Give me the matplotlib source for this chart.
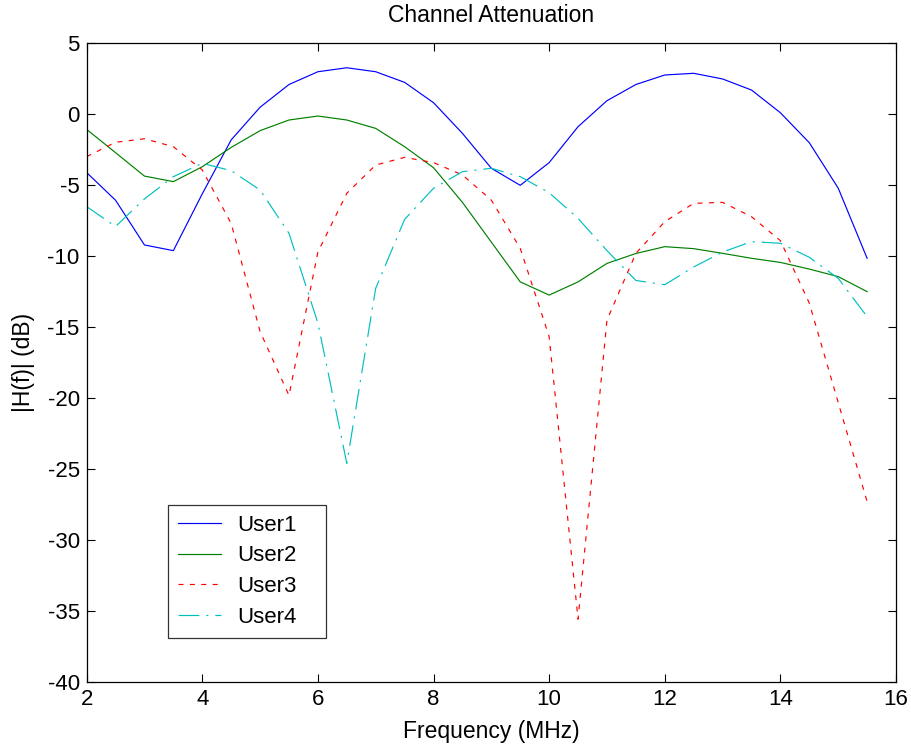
import numpy as np
import matplotlib
matplotlib.use("Agg")
import matplotlib.pyplot as plt

plt.rcParams['font.family'] = ['Liberation Sans', 'DejaVu Sans']
plt.rcParams['lines.scale_dashes'] = False
plt.rcParams['axes.unicode_minus'] = False

freq = [2, 2.5, 3, 3.5, 4, 4.5, 5, 5.5, 6, 6.5, 7, 7.5, 8, 8.5, 9, 9.5,
        10, 10.5, 11, 11.5, 12, 12.5, 13, 13.5, 14, 14.5, 15, 15.5]

user1 = [-4.1, -6.05, -9.2, -9.6, -5.6, -1.8, 0.5, 2.1, 3.0, 3.28, 3.0, 2.25,
         0.82, -1.34, -3.8, -5.0, -3.4, -0.87, 0.96, 2.1, 2.77, 2.89, 2.49,
         1.71, 0.11, -2.0, -5.2, -10.14]
user2 = [-1.06, -2.7, -4.35, -4.74, -3.69, -2.33, -1.15, -0.4, -0.12, -0.4,
         -0.99, -2.28, -3.76, -6.2, -9.0, -11.8, -12.73, -11.8, -10.5, -9.8,
         -9.32, -9.46, -9.79, -10.14, -10.43, -10.9, -11.43, -12.49]
user3 = [-2.98, -1.97, -1.72, -2.28, -3.92, -7.68, -15.3, -19.8, -9.7, -5.56,
         -3.57, -3.03, -3.4, -4.27, -6.04, -9.44, -15.66, -35.56, -14.49,
         -9.79, -7.56, -6.27, -6.2, -7.21, -8.9, -13.3, -20.3, -27.28]
user4 = [-6.5, -7.9, -5.96, -4.39, -3.45, -3.97, -5.33, -8.38, -14.7, -24.58,
         -12.25, -7.4, -5.21, -4.04, -3.8, -4.39, -5.52, -7.33, -9.6, -11.7,
         -12.0, -10.75, -9.7, -8.97, -9.08, -10.07, -11.55, -14.25]

labels = ['User1', 'User2', 'User3', 'User4']

fig = plt.figure(figsize=(9.12, 7.51), dpi=100)
ax = fig.add_axes([0.095, 0.0915, 0.8875, 0.8508])

lw = 0.85
ax.plot(freq, user1, color=(0, 0, 1), lw=lw, label=labels[0])
ax.plot(freq, user2, color=(0, 0.5, 0), lw=lw, label=labels[1])
ax.plot(freq, user3, color=(1, 0, 0), lw=lw, linestyle=(0, (3.6, 4.6)), label=labels[2])
ax.plot(freq, user4, color=(0, 0.75, 0.75), lw=lw, linestyle=(0, (15, 5, 1.5, 5)), label=labels[3])

fs = 16
ax.set_xlim(2, 16)
ax.set_ylim(-40, 5)
ax.set_xticks(np.arange(2, 17, 2))
ax.set_yticks(np.arange(-40, 6, 5))
ax.tick_params(direction='in', length=5.5, width=0.8, top=True, right=True,
               labelsize=fs, pad=5, colors='black')
for s in ax.spines.values():
    s.set_linewidth(0.9)

ax.set_title('Channel Attenuation', fontsize=16.5, pad=15)
ax.set_xlabel('Frequency (MHz)', fontsize=16.5, labelpad=7)
ax.set_ylabel('|H(f)| (dB)', fontsize=16.5, labelpad=9)

leg = ax.legend(loc='upper left', bbox_to_anchor=(0.1, 0.071, 0.196, 0.207),
                mode='expand', fontsize=fs, frameon=True, fancybox=False,
                handlelength=1.95, handletextpad=0.75, borderpad=0.45,
                labelspacing=0.44, borderaxespad=0)
leg.get_frame().set_edgecolor('black')
leg.get_frame().set_linewidth(0.9)

fig.savefig('out.png', dpi=100)
